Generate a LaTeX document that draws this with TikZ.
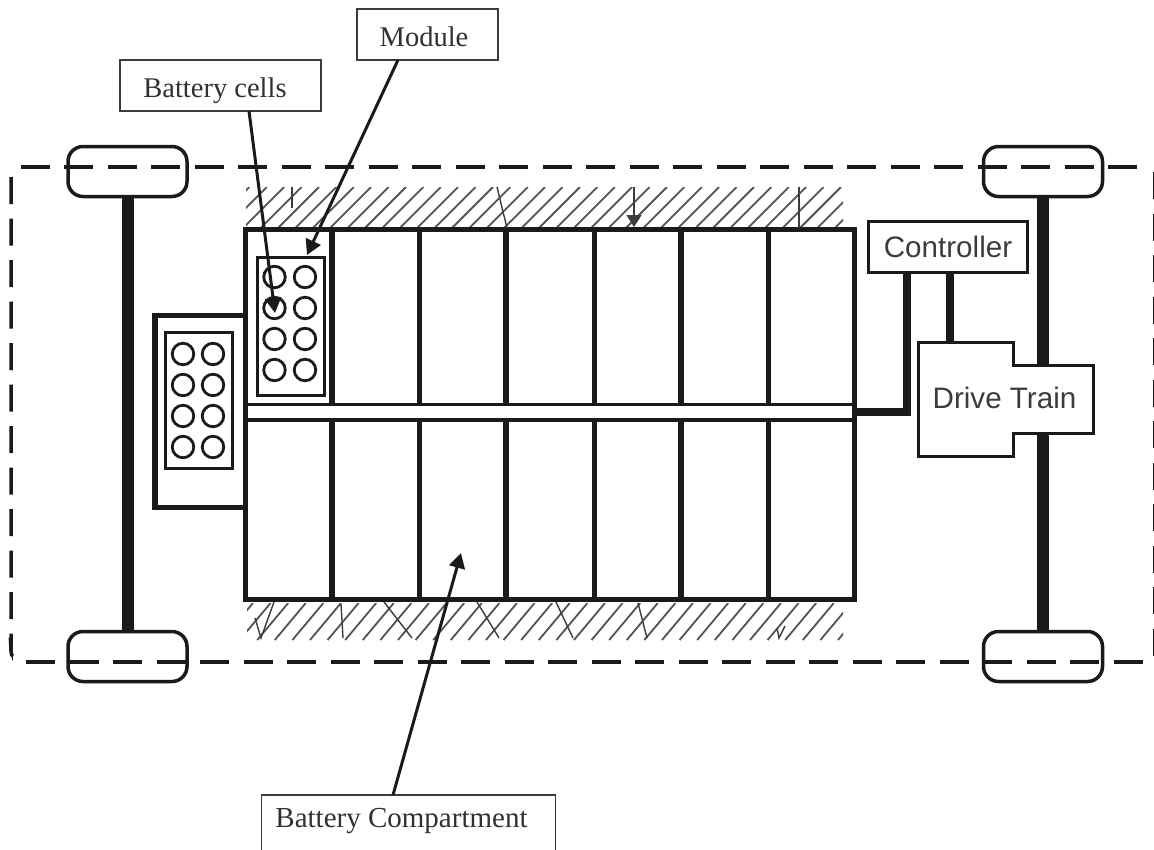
\documentclass[tikz,border=0pt]{standalone}
\usepackage{fontspec}
\setmainfont{Liberation Serif}
\newfontfamily\helv{Liberation Sans}
\usetikzlibrary{arrows.meta}
\definecolor{ink}{HTML}{1A1A1A}
\tikzset{
  every node/.style={outer sep=0pt},
  wall/.style={draw=ink,line width=5.5pt,line cap=rect},
  thinwall/.style={draw=ink,line width=3.4pt},
  axle/.style={draw=ink,line width=12pt},
  wire/.style={draw=ink,line width=8pt,line join=miter},
  wheel/.style={draw=ink,line width=3.5pt,rounded corners=15pt,minimum width=119pt,minimum height=50pt,inner sep=0pt},
  cell/.style={circle,draw=ink,line width=2.8pt,minimum size=21.5pt,inner sep=0pt},
  modbox/.style={draw=ink,line width=3pt,inner sep=0pt},
  tag/.style={draw=ink!85,line width=1.6pt,inner sep=0pt},
  tagtext/.style={anchor=base,inner sep=0pt,font=\fontsize{28.5}{30}\selectfont,text=ink!90},
  sans/.style={font=\helv\fontsize{29.6}{32}\selectfont,text=ink!85},
  outline/.style={draw=ink,line width=3.5pt},
  hatch/.style={draw=ink!75,line width=1.8pt},
  scribble/.style={draw=ink!85,line width=1.4pt},
  pointer/.style={draw=ink,line width=3pt,-{Triangle[length=15pt,width=16pt]}},
}
\begin{document}
\begin{tikzpicture}[x=1pt,y=-1pt]
\useasboundingbox (0,0) rectangle (1154,849);
\clip (0,0) rectangle (1154,849);
\fill[white] (0,0) rectangle (1154,849);

% hatching
\begin{scope}
  \clip (246,187) rectangle (843,229);
  \foreach \h in {0,...,38} { \draw[hatch] ({188+17.4*\h},231) -- ++(44,-44); }
\end{scope}
\begin{scope}
  \clip (247,603) rectangle (843,640);
  \foreach \h in {0,...,36} { \draw[hatch] ({222+17.6*\h},640) -- ++(31,-37); }
\end{scope}

% wheels and axles
\node[wheel] (wheelTL) at (127.5,171.5) {};
\node[wheel] (wheelBL) at (127.5,656.5) {};
\node[wheel] (wheelTR) at (1043,171.5) {};
\node[wheel] (wheelBR) at (1043,656.5) {};
\draw[axle] (wheelTL.south) -- (wheelBL.north);
\draw[axle] (wheelTR.south) -- (wheelBR.north);

% vehicle outline, dashed
\draw[outline,dash pattern=on 29pt off 14.5pt] (20.5,167) -- (1150,167);
\draw[outline,dash pattern=on 29pt off 14.5pt] (26,662) -- (1154,662);
\draw[outline,dash pattern=on 27pt off 14.5pt] (11,177) -- (11,650) to[out=90,in=180] (13,656);
\draw[outline,dash pattern=on 27pt off 14.5pt] (1155,172) -- (1155,660);

% compartment
\node[wall,minimum width=609pt,minimum height=370pt,inner sep=0pt] (main) at (550,414.5) {};
\node[wall,minimum width=90.5pt,minimum height=192pt,inner sep=0pt,anchor=east] (side) at (245.5,411.5) {};
\draw[wall,line cap=butt] (245.5,229.5) -- (245.5,599.5);
\coordinate (chA) at (247,404.5);
\coordinate (chB) at (247,420);
\draw[thinwall] (chA) -- (chA -| main.east);
\draw[thinwall] (chB) -- (chB -| main.east);
\foreach \vx in {332,419.5,506,594.5,681,768.5} {
  \draw[wall,line cap=butt] (\vx,229) -- (\vx,404.5);
  \draw[wall,line cap=butt] (\vx,420) -- (\vx,600);
}

% modules and cells
\node[modbox,minimum width=67pt,minimum height=138pt] (modA) at (290.5,326) {};
\node[modbox,minimum width=67pt,minimum height=136pt] (modB) at (198.5,400) {};
\foreach \row/\yy in {1/277,2/308,3/339,4/370} {
  \node[cell] (a\row) at (274.5,\yy) {};
  \node[cell] (b\row) at (305,\yy) {};
}
\foreach \row/\yy in {1/354,2/385,3/416,4/447} {
  \node[cell] (c\row) at (183,\yy) {};
  \node[cell] (d\row) at (213,\yy) {};
}

% controller and drive train
\coordinate (dt1) at (918,342);
\coordinate (dt2) at (1013,342);
\coordinate (dt3) at (1013,365);
\coordinate (dt4) at (1093,365);
\coordinate (dt5) at (1093,433);
\coordinate (dt6) at (1013,433);
\coordinate (dt7) at (1013,456);
\coordinate (dt8) at (918,456);
\draw[draw=ink,line width=3pt,fill=white] (dt1) -- (dt2) -- (dt3) -- (dt4) -- (dt5) -- (dt6) -- (dt7) -- (dt8) -- cycle;
\node[sans] (drive) at (1004.5,398) {Drive Train};
\node[draw=ink,line width=3.2pt,fill=white,minimum width=159pt,minimum height=51pt,inner sep=0pt,sans] (ctrl) at (948,247) {Controller};
\coordinate (bend) at (907,412);
\coordinate (feed) at (950,342);
\draw[wire] (ctrl.south -| bend) -- (bend) -- (main.east |- bend);
\draw[wire] (ctrl.south -| feed) -- (feed);

% marks in the hatching
\coordinate (t1a) at (292,187); \coordinate (t1b) at (292,208);
\coordinate (t2a) at (497,187); \coordinate (t2b) at (507,228);
\coordinate (t3a) at (799,187); \coordinate (t3b) at (799,228);
\draw[scribble] (t1a) -- (t1b);
\draw[scribble] (t2a) -- (t2b);
\draw[scribble] (t3a) -- (t3b);
\coordinate (ta) at (634,187); \coordinate (tb) at (634,227);
\draw[scribble,-{Triangle[length=12pt,width=15pt]}] (ta) -- (tb);
\draw[scribble] (274,602) -- (261,638) -- (255,618);
\draw[scribble] (341,604) -- (343,638);
\draw[scribble] (384,602) -- (412,638);
\draw[scribble] (477,602) -- (499,638);
\draw[scribble] (556,602) -- (573,638);
\draw[scribble] (638,603) -- (647,638);
\draw[scribble] (785,626) -- (779,638) -- (777,628);

% labels and pointers
\node[tag,minimum width=141pt,minimum height=51pt] (module) at (427.5,34.5) {};
\node[tagtext] (moduletext) at (424,46) {Module};
\node[tag,minimum width=201pt,minimum height=51pt] (cells) at (220.5,85.5) {};
\node[tagtext] (cellstext) at (215,97.5) {Battery cells};
\node[tag,minimum width=294pt,minimum height=110pt,anchor=north] (compbox) at (408.5,795) {};
\node[tagtext,font=\fontsize{29}{30}\selectfont] (comptext) at (401.5,827) {Battery Compartment};
\coordinate (tipCells) at (275,313);
\coordinate (tipMod) at (307,255);
\coordinate (tipComp) at (461,553);
\coordinate (fromCells) at (249,111);
\coordinate (fromMod) at (398,60);
\coordinate (fromComp) at (393,795);
\draw[pointer] (fromCells) -- (tipCells);
\draw[pointer] (fromMod) -- (tipMod);
\draw[pointer] (fromComp) -- (tipComp);
\end{tikzpicture}
\end{document}
